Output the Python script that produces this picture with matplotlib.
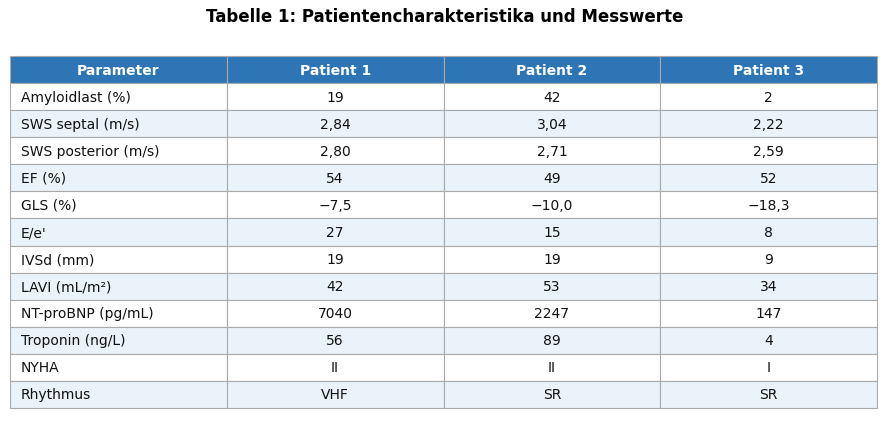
import matplotlib
matplotlib.use("Agg")
import matplotlib.pyplot as plt

# table content
columns = ["Parameter", "Patient 1", "Patient 2", "Patient 3"]
parameters = [
    "Amyloidlast (%)", "SWS septal (m/s)", "SWS posterior (m/s)", "EF (%)",
    "GLS (%)", "E/e'", "IVSd (mm)", "LAVI (mL/m²)", "NT-proBNP (pg/mL)",
    "Troponin (ng/L)", "NYHA", "Rhythmus",
]
patient1 = ["19", "2,84", "2,80", "54", "−7,5", "27", "19", "42", "7040", "56", "II", "VHF"]
patient2 = ["42", "3,04", "2,71", "49", "−10,0", "15", "19", "53", "2247", "89", "II", "SR"]
patient3 = ["2", "2,22", "2,59", "52", "−18,3", "8", "9", "34", "147", "4", "I", "SR"]

HEADER = "#2E75B6"
STRIPE = "#EAF2FA"
EDGE = "#AAAAAA"

W, H = 889, 439
fig = plt.figure(figsize=(W / 100, H / 100), dpi=100)
ax = fig.add_axes([0, 0, 1, 1])
ax.axis("off")

rows = [list(r) for r in zip(parameters, patient1, patient2, patient3)]
tbl = ax.table(
    cellText=rows, colLabels=columns, cellLoc="center",
    bbox=[10 / W, (H - 409) / H, 867 / W, 352 / H],
)
tbl.auto_set_font_size(False)
tbl.set_fontsize(10)

for (r, c), cell in tbl.get_celld().items():
    cell.set_edgecolor(EDGE)
    cell.set_linewidth(0.8)
    if r == 0:
        cell.set_facecolor(HEADER)
        cell.get_text().set_color("white")
        cell.get_text().set_fontweight("bold")
    else:
        cell.set_facecolor(STRIPE if r % 2 == 0 else "white")
        cell.get_text().set_color("#111111")
        if c == 0:
            cell.get_text().set_ha("left")
            cell.PAD = 0.05

fig.text(0.5, (H - 17) / H, "Tabelle 1: Patientencharakteristika und Messwerte",
         ha="center", va="center", fontsize=12, fontweight="bold")

fig.savefig("out.png", dpi=100)
